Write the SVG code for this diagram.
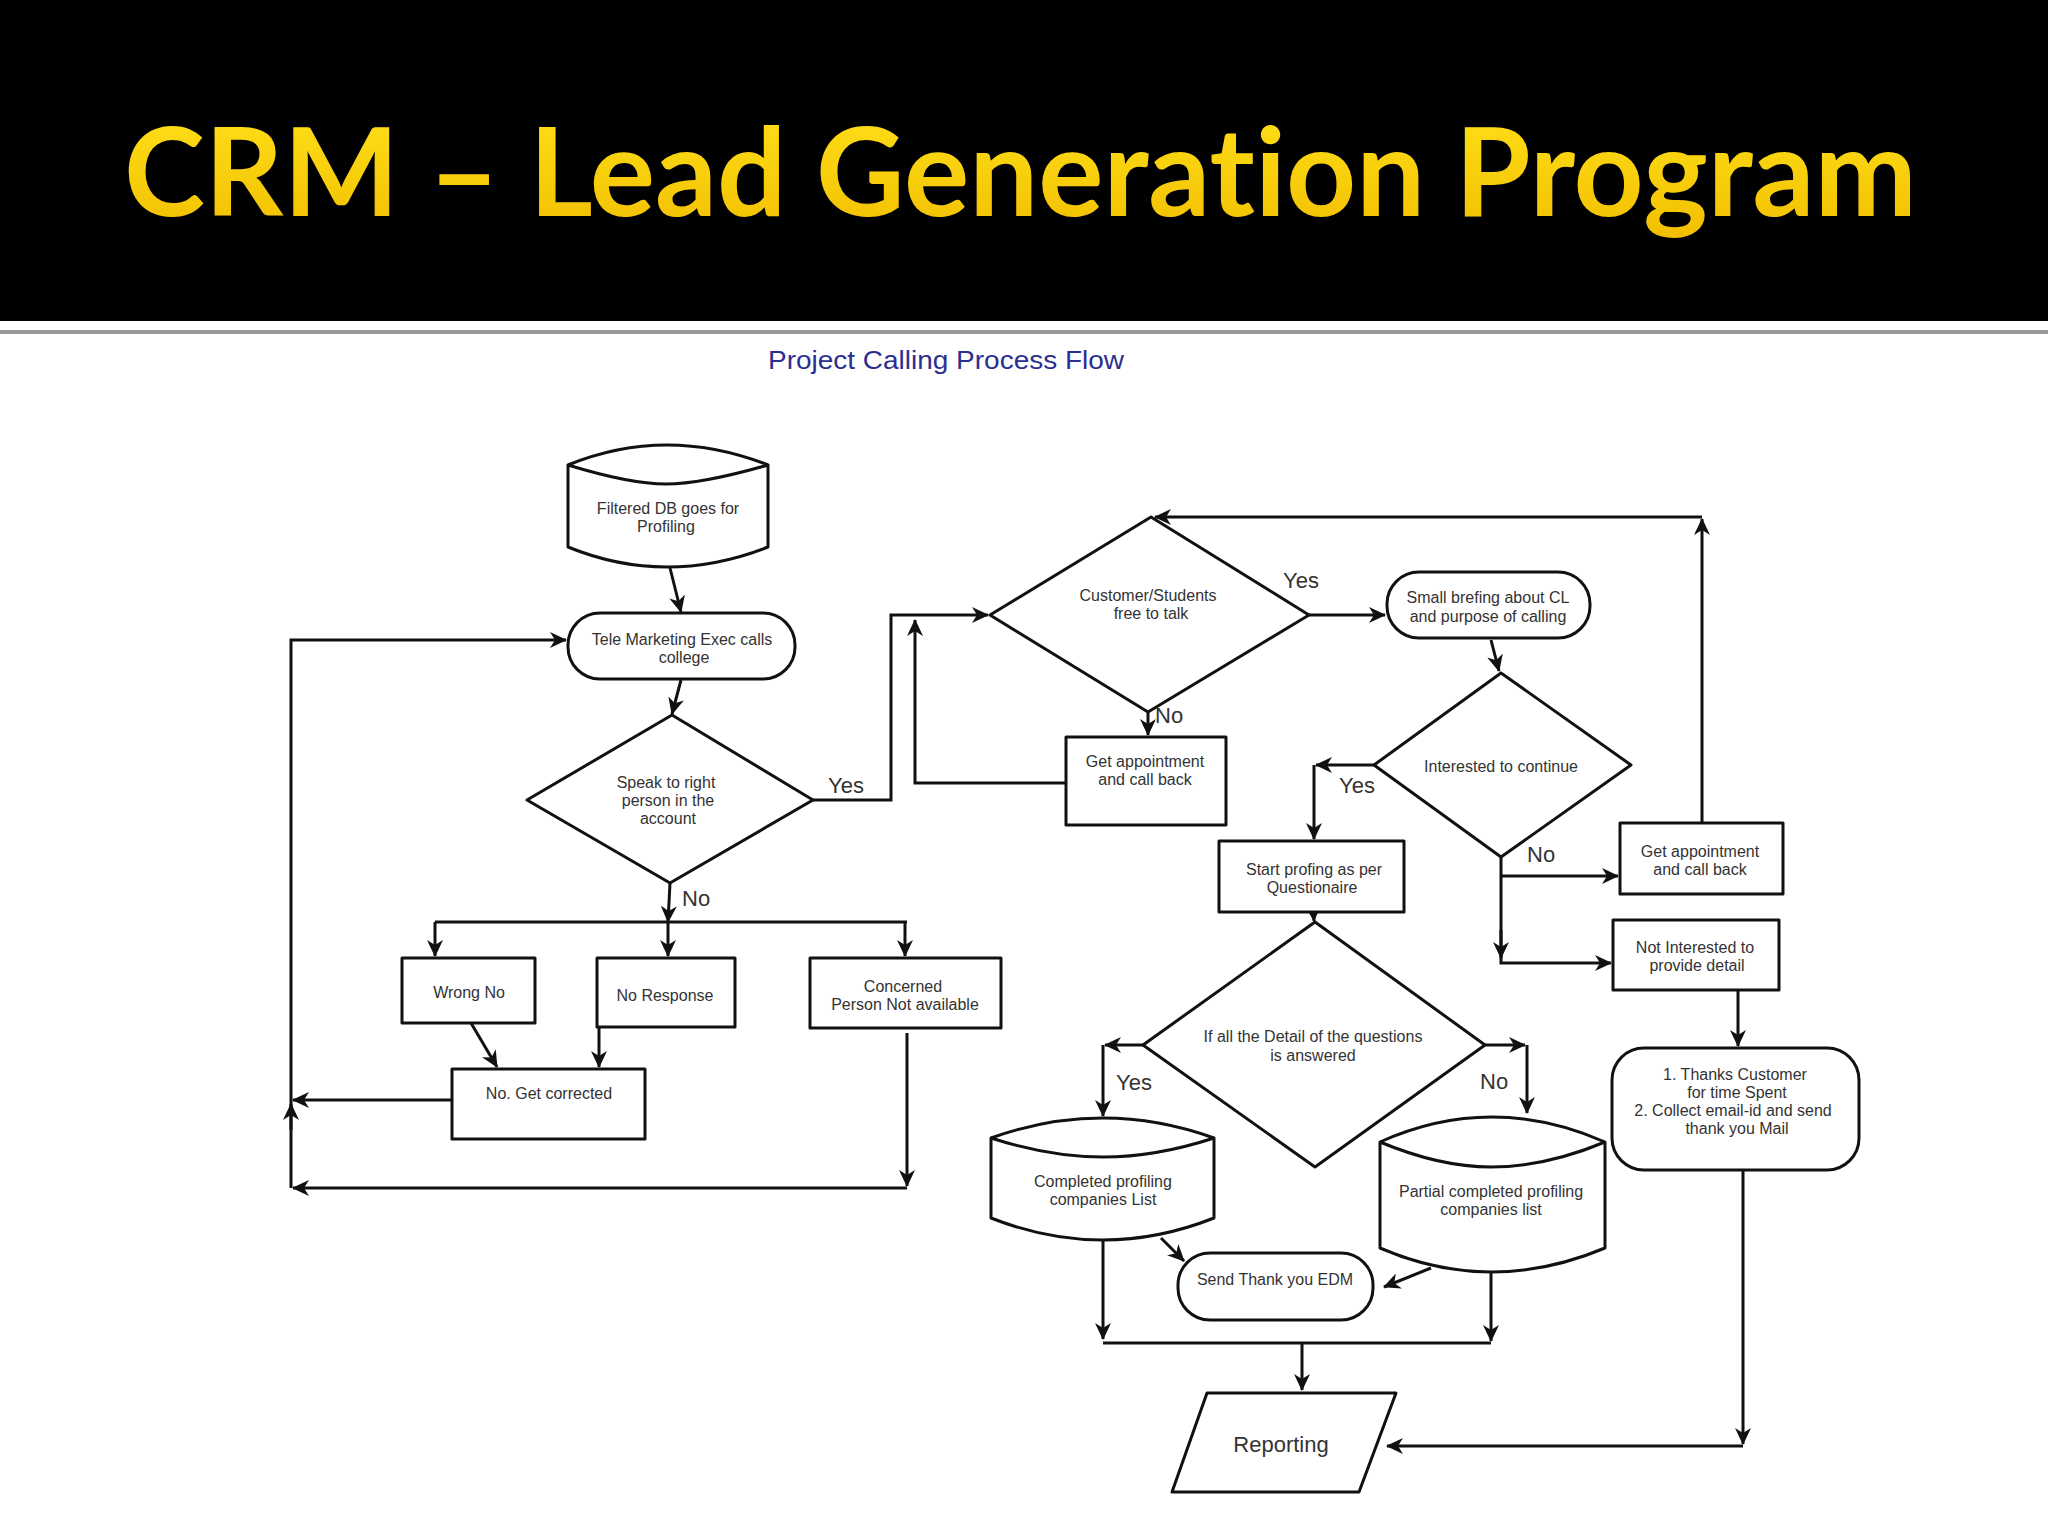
<svg xmlns="http://www.w3.org/2000/svg" width="2048" height="1536" viewBox="0 0 2048 1536">
<style>
.sh{fill:#fff;stroke:#111;stroke-width:3;stroke-linejoin:round}
.ln{fill:none;stroke:#111;stroke-width:3}
.t{font-family:"Liberation Sans",Arial,sans-serif;font-size:16px;fill:#333;text-anchor:middle}
.lb{font-family:"Liberation Sans",Arial,sans-serif;font-size:22px;fill:#333}
.title{font-family:Lato,"Open Sans",sans-serif;font-weight:bold;font-size:122px;font-variant-ligatures:none;font-feature-settings:"liga" 0}
</style>
<defs>
<marker id="a" markerUnits="userSpaceOnUse" markerWidth="18" markerHeight="16" refX="16" refY="8" orient="auto">
<path d="M0,0 L17,8 L0,16 L5,8 Z" fill="#111"/>
</marker>
<linearGradient id="g" x1="0" y1="0" x2="0" y2="1">
<stop offset="0" stop-color="#FFE21A"/>
<stop offset="1" stop-color="#F2BE00"/>
</linearGradient>
</defs>
<rect x="0" y="0" width="2048" height="1536" fill="#fff"/>
<rect x="0" y="0" width="2048" height="321" fill="#000"/>
<rect x="0" y="330" width="2048" height="4" fill="#9a9a9a"/>
<text class="title" x="124" y="216" fill="url(#g)" textLength="1793" lengthAdjust="spacingAndGlyphs">CRM – Lead Generation Program</text>
<text x="946" y="369" font-family="'Liberation Sans',Arial,sans-serif" font-size="26" fill="#2B2F8F" text-anchor="middle" textLength="356" lengthAdjust="spacingAndGlyphs">Project Calling Process Flow</text>

<g id="connectors">
<path class="ln" d="M670,568 L681,612" marker-end="url(#a)"/>
<path class="ln" d="M681,680 L672,714" marker-end="url(#a)"/>
<path class="ln" d="M813,800 L891,800 L891,615 L988,615" marker-end="url(#a)"/>
<path class="ln" d="M670,883 L668,922" marker-end="url(#a)"/>
<path class="ln" d="M435,922 L907,922"/>
<path class="ln" d="M435,922 L435,956" marker-end="url(#a)"/>
<path class="ln" d="M668,922 L668,956" marker-end="url(#a)"/>
<path class="ln" d="M905,922 L905,956" marker-end="url(#a)"/>
<path class="ln" d="M471,1023 L497,1067" marker-end="url(#a)"/>
<path class="ln" d="M599,1027 L599,1067" marker-end="url(#a)"/>
<path class="ln" d="M452,1100 L293,1100" marker-end="url(#a)"/>
<path class="ln" d="M907,1033 L907,1186" marker-end="url(#a)"/>
<path class="ln" d="M907,1188 L293,1188" marker-end="url(#a)"/>
<path class="ln" d="M291,1188 L291,640 L566,640" marker-end="url(#a)"/>
<path class="ln" d="M291,1130 L291,1104" marker-end="url(#a)"/>
<path class="ln" d="M1309,615 L1385,615" marker-end="url(#a)"/>
<path class="ln" d="M1148,712 L1148,735" marker-end="url(#a)"/>
<path class="ln" d="M1066,783 L915,783 L915,620" marker-end="url(#a)"/>
<path class="ln" d="M1491,640 L1499,671" marker-end="url(#a)"/>
<path class="ln" d="M1374,765 L1316,765" marker-end="url(#a)"/>
<path class="ln" d="M1314,765 L1314,839" marker-end="url(#a)"/>
<path class="ln" d="M1501,857 L1501,963 L1611,963" marker-end="url(#a)"/>
<path class="ln" d="M1501,930 L1501,958" marker-end="url(#a)"/>
<path class="ln" d="M1501,876 L1618,876" marker-end="url(#a)"/>
<path class="ln" d="M1702,823 L1702,519" marker-end="url(#a)"/>
<path class="ln" d="M1702,517 L1155,517" marker-end="url(#a)"/>
<path class="ln" d="M1738,990 L1738,1046" marker-end="url(#a)"/>
<path class="ln" d="M1313,905 L1314,921" marker-end="url(#a)"/>
<path class="ln" d="M1143,1045 L1105,1045" marker-end="url(#a)"/>
<path class="ln" d="M1103,1045 L1103,1116" marker-end="url(#a)"/>
<path class="ln" d="M1485,1045 L1525,1045" marker-end="url(#a)"/>
<path class="ln" d="M1527,1045 L1527,1113" marker-end="url(#a)"/>
<path class="ln" d="M1161,1238 L1184,1261" marker-end="url(#a)"/>
<path class="ln" d="M1431,1268 L1384,1287" marker-end="url(#a)"/>
<path class="ln" d="M1103,1240 L1103,1339" marker-end="url(#a)"/>
<path class="ln" d="M1103,1343 L1491,1343"/>
<path class="ln" d="M1491,1272 L1491,1341" marker-end="url(#a)"/>
<path class="ln" d="M1302,1343 L1302,1390" marker-end="url(#a)"/>
<path class="ln" d="M1743,1170 L1743,1444" marker-end="url(#a)"/>
<path class="ln" d="M1743,1446 L1387,1446" marker-end="url(#a)"/>
</g>

<g id="labels">
<text class="lb" x="828" y="793">Yes</text>
<text class="lb" x="682" y="906">No</text>
<text class="lb" x="1283" y="588">Yes</text>
<text class="lb" x="1155" y="723">No</text>
<text class="lb" x="1339" y="793">Yes</text>
<text class="lb" x="1527" y="862">No</text>
<text class="lb" x="1116" y="1090">Yes</text>
<text class="lb" x="1480" y="1089">No</text>
</g>

<g id="filtered-db">
<path class="sh" d="M568,465 Q666,425 768,465 L768,547 Q666,587 568,547 Z"/>
<path class="ln" d="M568,465 Q630,484 666,484 Q702,484 768,465"/>
<text class="t" x="668" y="514">Filtered DB goes for</text>
<text class="t" x="666" y="532">Profiling</text>
</g>
<g id="tele-marketing">
<rect class="sh" x="568" y="613" width="227" height="66" rx="32"/>
<text class="t" x="682" y="645">Tele Marketing Exec calls</text>
<text class="t" x="684" y="663">college</text>
</g>
<g id="speak-right-person">
<polygon class="sh" points="672,715 813,800 670,883 527,800"/>
<text class="t" x="666" y="788">Speak to right</text>
<text class="t" x="668" y="806">person in the</text>
<text class="t" x="668" y="824">account</text>
</g>
<g id="wrong-no">
<rect class="sh" x="402" y="958" width="133" height="65"/>
<text class="t" x="469" y="998">Wrong No</text>
</g>
<g id="no-response">
<rect class="sh" x="597" y="958" width="138" height="69"/>
<text class="t" x="665" y="1001">No Response</text>
</g>
<g id="concerned-person">
<rect class="sh" x="810" y="958" width="191" height="70"/>
<text class="t" x="903" y="992">Concerned</text>
<text class="t" x="905" y="1010">Person Not available</text>
</g>
<g id="no-get-corrected">
<rect class="sh" x="452" y="1069" width="193" height="70"/>
<text class="t" x="549" y="1099">No. Get corrected</text>
</g>
<g id="customer-free">
<polygon class="sh" points="1151,517 1309,615 1148,712 990,615"/>
<text class="t" x="1148" y="601">Customer/Students</text>
<text class="t" x="1151" y="619">free to talk</text>
</g>
<g id="get-appointment-1">
<rect class="sh" x="1066" y="737" width="160" height="88"/>
<text class="t" x="1145" y="767">Get appointment</text>
<text class="t" x="1145" y="785">and call back</text>
</g>
<g id="small-briefing">
<rect class="sh" x="1387" y="572" width="203" height="66" rx="32"/>
<text class="t" x="1488" y="603">Small brefing about CL</text>
<text class="t" x="1488" y="622">and purpose of calling</text>
</g>
<g id="interested">
<polygon class="sh" points="1501,673 1631,765 1501,857 1374,765"/>
<text class="t" x="1501" y="772">Interested to continue</text>
</g>
<g id="start-profiling">
<rect class="sh" x="1219" y="841" width="185" height="71"/>
<text class="t" x="1314" y="875">Start profing as per</text>
<text class="t" x="1312" y="893">Questionaire</text>
</g>
<g id="get-appointment-2">
<rect class="sh" x="1620" y="823" width="163" height="71"/>
<text class="t" x="1700" y="857">Get appointment</text>
<text class="t" x="1700" y="875">and call back</text>
</g>
<g id="not-interested">
<rect class="sh" x="1613" y="920" width="166" height="70"/>
<text class="t" x="1695" y="953">Not Interested to</text>
<text class="t" x="1697" y="971">provide detail</text>
</g>
<g id="thanks-customer">
<rect class="sh" x="1612" y="1048" width="247" height="122" rx="32"/>
<text class="t" x="1735" y="1080">1. Thanks Customer</text>
<text class="t" x="1737" y="1098">for time Spent</text>
<text class="t" x="1733" y="1116">2. Collect email-id and send</text>
<text class="t" x="1737" y="1134">thank you Mail</text>
</g>
<g id="all-details-answered">
<polygon class="sh" points="1315,922 1485,1045 1315,1167 1143,1045"/>
<text class="t" x="1313" y="1042">If all the Detail of the questions</text>
<text class="t" x="1313" y="1061">is answered</text>
</g>
<g id="completed-list">
<path class="sh" d="M991,1138 Q1103,1098 1214,1138 L1214,1218 Q1103,1262 991,1218 Z"/>
<path class="ln" d="M991,1138 Q1050,1157 1103,1157 Q1156,1157 1214,1138"/>
<text class="t" x="1103" y="1187">Completed profiling</text>
<text class="t" x="1103" y="1205">companies List</text>
</g>
<g id="partial-list">
<path class="sh" d="M1380,1142 Q1491,1092 1605,1142 L1605,1248 Q1491,1296 1380,1248 Z"/>
<path class="ln" d="M1380,1142 Q1440,1167 1491,1167 Q1545,1167 1605,1142"/>
<text class="t" x="1491" y="1197">Partial completed profiling</text>
<text class="t" x="1491" y="1215">companies list</text>
</g>
<g id="send-edm">
<rect class="sh" x="1178" y="1253" width="195" height="67" rx="32"/>
<text class="t" x="1275" y="1285">Send Thank you EDM</text>
</g>
<g id="reporting">
<polygon class="sh" points="1207,1393 1396,1393 1359,1492 1172,1492"/>
<text class="t" x="1281" y="1452" style="font-size:22px">Reporting</text>
</g>
</svg>
